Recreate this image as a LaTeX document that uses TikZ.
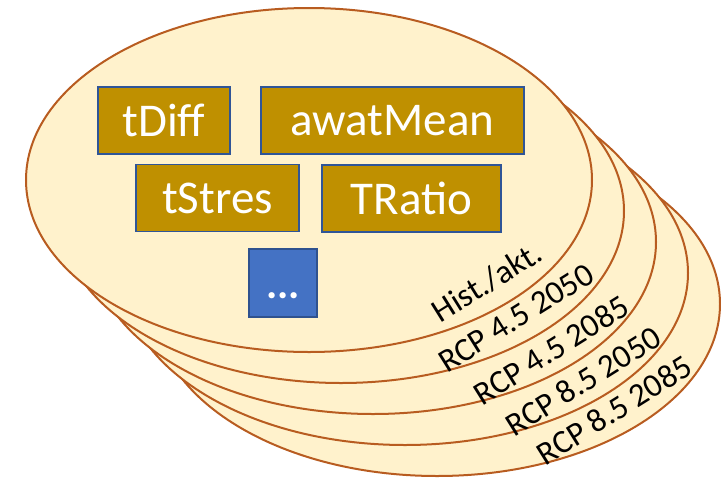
\documentclass[tikz,border=0pt]{standalone}
\usepackage{fontspec}
\setmainfont{Carlito}
\usetikzlibrary{shapes.geometric}
\definecolor{diskfill}{HTML}{FFF2CC}
\definecolor{rim}{RGB}{184,92,32}
\definecolor{gold}{HTML}{BF9000}
\definecolor{boxline}{HTML}{2F5597}
\definecolor{bluefill}{HTML}{4472C4}
\definecolor{blueline}{HTML}{2F528F}
\begin{document}
\begin{tikzpicture}[x=1pt,y=-1pt,
  disk/.style={ellipse, draw=rim, fill=diskfill, line width=2pt,
    minimum width=566pt, minimum height=344pt, inner sep=0pt},
  goldbox/.style={draw=boxline, fill=gold, line width=1.6pt, text=white,
    font=\fontsize{47}{50}\selectfont, inner sep=0pt, minimum height=67pt},
  bluebox/.style={draw=blueline, fill=bluefill, line width=1.6pt, text=white,
    font=\fontsize{42}{44}\selectfont\bfseries, inner sep=0pt, minimum width=68pt, minimum height=68pt},
  lab/.style={rotate=32, font=\fontsize{33}{35}\selectfont, inner sep=0pt}]
\useasboundingbox (0,0) rectangle (721,480);
% stacked disks, back to front
\node[disk] (d5) at (437,304) {};
\node[disk] (d4) at (405,273) {};
\node[disk] (d3) at (373,242) {};
\node[disk] (d2) at (341,211) {};
\node[disk] (d1) at (309,180) {};
% labels
\node[lab] (l1) at (487,282) {Hist./akt.};
\node[lab] (l2) at (516,318) {RCP 4.5 2050};
\node[lab] (l3) at (551,350) {RCP 4.5 2085};
\node[lab] (l4) at (583,381) {RCP 8.5 2050};
\node[lab] (l5) at (614,410) {RCP 8.5 2085};
% boxes
\node[goldbox, minimum width=132pt] (tdiff) at (164,120.5) {tDiff};
\node[goldbox, minimum width=263pt] (awat) at (392.5,120.5) {awatMean};
\node[goldbox, minimum width=163pt] (tstres) at (217.5,198) {tStres};
\node[goldbox, minimum width=179pt] (tratio) at (411.5,198.5) {TRatio};
\node[bluebox] (more) at (283,283) {\raisebox{-15pt}[0pt][0pt]{...}};
\end{tikzpicture}
\end{document}
